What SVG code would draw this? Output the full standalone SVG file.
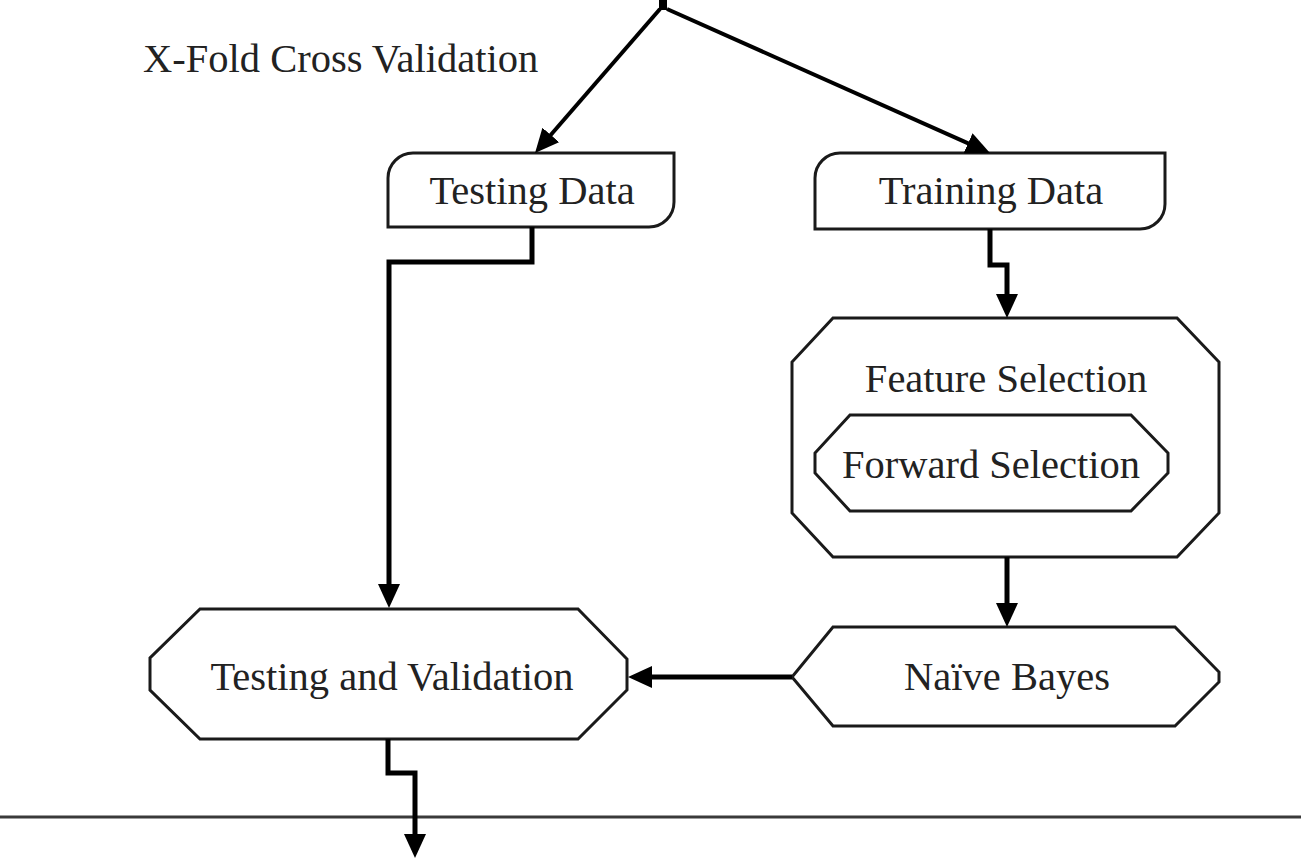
<svg xmlns="http://www.w3.org/2000/svg" width="1301" height="858" viewBox="0 0 1301 858">
  <style>
    .shape { fill: #ffffff; stroke: #1a1a1a; stroke-width: 3; stroke-linejoin: miter; }
    .label { font-family: "Liberation Serif", "Times New Roman", serif; font-size: 40.5px; fill: #222222; text-anchor: middle; }
    .conn { fill: none; stroke: #000000; stroke-width: 5; stroke-linejoin: miter; }
    .diag { fill: none; stroke: #000000; stroke-width: 4; }
  </style>
  <defs>
    <marker id="arrow" viewBox="0 0 24 22" refX="10" refY="11" markerWidth="24" markerHeight="22" markerUnits="userSpaceOnUse" orient="auto">
      <path d="M0,0 L24,11 L0,22 Z" fill="#000000"/>
    </marker>
  </defs>
  <rect x="0" y="0" width="1301" height="858" fill="#ffffff"/>

  <g id="title">
    <text x="143" y="72" class="label" style="text-anchor:start">X-Fold Cross Validation</text>
  </g>

  <g id="divider">
    <line x1="0" y1="817" x2="1301" y2="817" stroke="#3a3a3a" stroke-width="3"/>
  </g>

  <g id="testing-data">
    <path class="shape" d="M413,153 H674 V202 A25,25 0 0 1 649,227 H388 V178 A25,25 0 0 1 413,153 Z"/>
    <text x="532" y="204" class="label">Testing Data</text>
  </g>

  <g id="training-data">
    <path class="shape" d="M840,153 H1165 V204 A25,25 0 0 1 1140,229 H815 V178 A25,25 0 0 1 840,153 Z"/>
    <text x="991" y="204" class="label">Training Data</text>
  </g>

  <g id="feature-selection">
    <polygon class="shape" points="833,318 1177,318 1219,362 1219,513 1177,557 833,557 792,513 792,362"/>
    <text x="1006" y="392" class="label">Feature Selection</text>
  </g>

  <g id="forward-selection">
    <polygon class="shape" points="850,415 1131,415 1168,453 1168,473 1131,511 850,511 815,473 815,453"/>
    <text x="991" y="478" class="label">Forward Selection</text>
  </g>

  <g id="testing-validation">
    <polygon class="shape" points="200,609 578,609 627,659 627,690 578,739 200,739 150,690 150,658"/>
    <text x="392" y="690" class="label">Testing and Validation</text>
  </g>

  <g id="naive-bayes">
    <polygon class="shape" points="833,627 1175,627 1219,672 1219,682 1175,726 833,726 792,677"/>
    <text x="1007" y="690" class="label">Naïve Bayes</text>
  </g>

  <g id="connectors">
    <line x1="663" y1="0" x2="663" y2="10" stroke="#000" stroke-width="8"/>
    <line class="diag" x1="660" y1="9" x2="544.2" y2="142.5" marker-end="url(#arrow)"/>
    <line class="diag" x1="667" y1="9" x2="977.2" y2="147.3" marker-end="url(#arrow)"/>
    <path class="conn" d="M532,227 V262 H389 V594" marker-end="url(#arrow)"/>
    <path class="conn" d="M990,229 V265 H1007 V304" marker-end="url(#arrow)"/>
    <path class="conn" d="M1007,557 V613" marker-end="url(#arrow)"/>
    <path class="conn" d="M792,677 H642" marker-end="url(#arrow)"/>
    <path class="conn" d="M388,739 V773 H415 V844" marker-end="url(#arrow)"/>
  </g>
</svg>
